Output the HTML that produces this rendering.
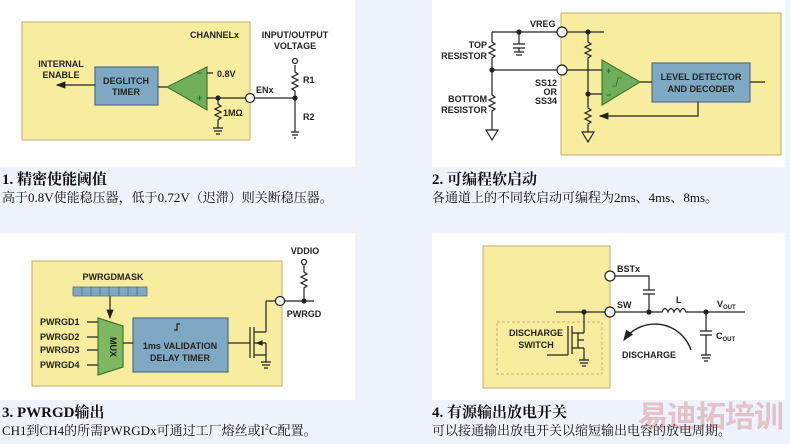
<!DOCTYPE html>
<html><head><meta charset="utf-8"><style>
body{margin:0;background:#eef3fb;width:790px;height:444px;overflow:hidden;position:relative;font-family:"Liberation Serif","Noto Serif CJK SC",serif}
svg{position:absolute;left:0;top:0}
.t{font-family:"Liberation Sans",sans-serif;font-weight:bold;font-size:9px;fill:#222}
.cap{position:absolute;font-size:13px;color:#111;line-height:18px;white-space:nowrap}
.cap b{font-size:15px;font-family:"Liberation Serif","Noto Serif CJK SC",serif}
</style></head><body>
<svg width="790" height="444" viewBox="0 0 790 444">
<defs><marker id="ar" markerWidth="8" markerHeight="8" refX="7" refY="4" orient="auto"><path d="M0,1 L8,4 L0,7z" fill="#222"/></marker></defs>
<g stroke="#222" stroke-width="1.2" fill="none">
<rect x="0" y="0" width="355" height="167" fill="#fff" stroke="none"/>
<rect x="432" y="0" width="353" height="167" fill="#fff" stroke="none"/>
<rect x="0" y="233" width="355" height="167" fill="#fff" stroke="none"/>
<rect x="432" y="233" width="353" height="167" fill="#fff" stroke="none"/>
<!-- P1 -->
<rect x="22" y="22" width="228" height="118" fill="#f8ec9f" stroke="#c9b97c"/>
<rect x="95" y="67" width="63" height="38" fill="#7fa9c2" stroke="#4f7088"/>
<path d="M167,87 L207,67 L207,110 Z" fill="#6fae5a" stroke="#3f7a35"/>
<path d="M158,87 H167 M95,85 H57" marker-end="url(#ar)"/>
<path d="M207,73 H213 M207,98 H246 M254,98 H295 M295,65 V72 l3,2 -6,3 6,3 -6,3 6,3 -6,3 3,2 V122 M218,98 V104 l3,2 -6,3 6,3 -6,3 6,3 -3,2 V128"/>
<path d="M291,132 H299 M292,135 H298 M294,138 H296 M295,122 V132 M213,128 H223 M214,131 H222 M216,134 H220"/>
<circle cx="250" cy="98" r="4.5" fill="#fff"/><circle cx="295" cy="61" r="2.5" fill="#fff"/>
<circle cx="218" cy="98" r="2" fill="#222"/><circle cx="295" cy="98" r="2" fill="#222"/>
<!-- P2 -->
<rect x="561" y="13" width="220" height="142" fill="#f8ec9f" stroke="#c9b97c"/>
<rect x="652" y="63" width="98" height="39" fill="#7fa9c2" stroke="#4f7088"/>
<path d="M602,60 L640,82 L602,105 Z" fill="#6fae5a" stroke="#3f7a35"/>
<path d="M612,86 h4 l2,-8 h4" stroke="#2d6a2a" stroke-width="0.8"/>
<path d="M492,32 H557 M567,32 H604 M492,70 H557 M567,70 H602 M588,32 V42 l3,2 -6,3 6,3 -6,3 6,3 -3,2 V94 M588,94 H602 M588,94 V108 l3,2 -6,3 6,3 -6,3 6,3 -3,2 V132 M640,82 H652 M750,82 H765"/>
<path d="M492,32 V42 l3,2 -6,3 6,3 -6,3 6,3 -3,2 V95 l3,2 -6,3 6,3 -6,3 6,3 -3,2 V130"/>
<path d="M486,130 H498 L492,140 Z M582,132 H594 L588,142 Z"/>
<path d="M519,32 V44 M513,44 H525 M513,48 H525 M519,48 V52 M514,52 H524 M516,55 H522"/>
<path d="M698,102 V116 H600" marker-end="url(#ar)"/>
<circle cx="562" cy="32" r="5" fill="#fff"/><circle cx="562" cy="70" r="5" fill="#fff"/>
<circle cx="519" cy="32" r="2" fill="#222"/><circle cx="588" cy="32" r="2" fill="#222"/><circle cx="492" cy="70" r="2" fill="#222"/><circle cx="588" cy="94" r="2" fill="#222"/>
<!-- P3 -->
<rect x="32" y="261" width="250" height="125" fill="#f8ec9f" stroke="#c9b97c"/>
<rect x="73" y="287" width="74" height="9" fill="#7fa9c2" stroke="#4f7088" stroke-width="0.8"/>
<path d="M82,287 V296 M91,287 V296 M100,287 V296 M109,287 V296 M119,287 V296 M128,287 V296 M137,287 V296" stroke="#4f7088" stroke-width="0.8"/>
<path d="M98,318 L123,326 V367 L98,375 Z" fill="#7fb860" stroke="#3f7a35"/>
<rect x="133" y="318" width="95" height="54" fill="#7fa9c2" stroke="#4f7088"/>
<path d="M110,296 V318" marker-end="url(#ar)"/>
<path d="M87,322 H98 M87,337 H98 M87,350 H98 M87,365 H98 M123,343 H133 M228,343 H250 M250,327 V358 M254,327 V358 M254,332 H266 M254,343 H266 M254,355 H266 M266,301 V332 M266,343 V355 M266,355 V362 M266,301 H276 M284,301 H314 M304,265 V272 l3,2 -6,3 6,3 -6,3 6,3 -3,2 V301 M261,362 H271 M262,365 H270 M264,368 H268"/>
<path d="M174,330 h3 v-6 h3" stroke-width="1.2"/>
<circle cx="280" cy="301" r="4.5" fill="#fff"/><circle cx="304" cy="262" r="2.5" fill="#fff"/><circle cx="304" cy="301" r="2" fill="#222"/>
<path d="M257,343 l5,-2 v4z" fill="#222"/>
<!-- P4 -->
<rect x="483" y="246" width="127" height="142" fill="#f8ec9f" stroke="#c9b97c"/>
<rect x="497" y="322" width="105" height="52" stroke="#b0a070" stroke-dasharray="3,2" stroke-width="0.8"/>
<path d="M614,276 H649 V290 M643,290 H655 M643,294 H655 M649,294 V312 M556,312 H605 M615,312 H662 q3,-7 6,0 q3,-7 6,0 q3,-7 6,0 q3,-7 6,0 H745 M706,312 V331 M700,331 H712 M700,335 H712 M706,335 V355 M701,355 H711 M702,358 H710 M704,361 H708"/>
<path d="M584,312 V333 M572,333 H584 M578,333 V348 M572,348 H584 M584,348 V360 M572,326 V354 M568,326 V355 M547,355 H568 M579,360 H589 M580,363 H588 M582,366 H586 M584,340 H578"/>
<path d="M691,350 A38,38 0 0 0 624,340" marker-end="url(#ar)" stroke-width="1.4"/>
<circle cx="610" cy="276" r="5" fill="#fff"/><circle cx="610" cy="312" r="5" fill="#fff"/>
<circle cx="584" cy="312" r="2" fill="#222"/><circle cx="649" cy="312" r="2" fill="#222"/><circle cx="706" cy="312" r="2" fill="#222"/>
</g>
<g class="t">
<text x="190" y="38">CHANNELx</text>
<text x="295" y="38" text-anchor="middle">INPUT/OUTPUT</text><text x="295" y="49" text-anchor="middle">VOLTAGE</text>
<text x="61" y="67" text-anchor="middle">INTERNAL</text><text x="61" y="78" text-anchor="middle">ENABLE</text>
<text x="126" y="84" text-anchor="middle">DEGLITCH</text><text x="126" y="95" text-anchor="middle">TIMER</text>
<text x="217" y="77">0.8V</text><text x="256" y="93">ENx</text>
<text x="303" y="83">R1</text><text x="303" y="120">R2</text><text x="223" y="116">1MΩ</text>
<text x="197" y="76" style="fill:#2d6a2a">−</text><text x="197" y="101" style="fill:#2d6a2a">+</text>
<text x="606" y="74" style="fill:#2d6a2a">+</text><text x="606" y="98" style="fill:#2d6a2a">−</text>
<text x="530" y="27">VREG</text>
<text x="487" y="48" text-anchor="end">TOP</text><text x="487" y="59" text-anchor="end">RESISTOR</text>
<text x="487" y="102" text-anchor="end">BOTTOM</text><text x="487" y="113" text-anchor="end">RESISTOR</text>
<text x="557" y="86" text-anchor="end">SS12</text><text x="557" y="95" text-anchor="end">OR</text><text x="557" y="104" text-anchor="end">SS34</text>
<text x="701" y="80" text-anchor="middle">LEVEL DETECTOR</text><text x="701" y="92" text-anchor="middle">AND DECODER</text>
<text x="305" y="254" text-anchor="middle">VDDIO</text><text x="304" y="317" text-anchor="middle">PWRGD</text>
<text x="113" y="280" text-anchor="middle">PWRGDMASK</text>
<text x="40" y="325">PWRGD1</text><text x="40" y="340">PWRGD2</text><text x="40" y="353">PWRGD3</text><text x="40" y="368">PWRGD4</text>
<text x="113" y="347" text-anchor="middle" transform="rotate(90 113 347)" dy="3">MUX</text>
<text x="180" y="349" text-anchor="middle">1ms VALIDATION</text><text x="180" y="361" text-anchor="middle">DELAY TIMER</text>
<text x="617" y="272">BSTx</text><text x="617" y="308">SW</text><text x="676" y="303">L</text>
<text x="717" y="307">V<tspan font-size="6" dy="2">OUT</tspan></text>
<text x="716" y="339">C<tspan font-size="6" dy="2">OUT</tspan></text>
<text x="536" y="336" text-anchor="middle">DISCHARGE</text><text x="536" y="348" text-anchor="middle">SWITCH</text>
<text x="622" y="358">DISCHARGE</text>
</g>
</svg>
<div class="cap" style="left:2px;top:171px"><b>1. 精密使能阈值</b><br>高于0.8V使能稳压器，低于0.72V（迟滞）则关断稳压器。</div>
<div class="cap" style="left:432px;top:171px"><b>2. 可编程软启动</b><br>各通道上的不同软启动可编程为2ms、4ms、8ms。</div>
<div class="cap" style="left:2px;top:404px"><b>3. PWRGD输出</b><br>CH1到CH4的所需PWRGDx可通过工厂熔丝或I<sup style="font-size:8px;line-height:0">2</sup>C配置。</div>
<div class="cap" style="left:432px;top:404px"><b>4. 有源输出放电开关</b><br>可以接通输出放电开关以缩短输出电容的放电周期。</div>
<div style="position:absolute;left:638px;top:396px;font-size:30px;font-weight:bold;color:rgba(200,80,80,0.3);font-family:'Noto Sans CJK SC',sans-serif;letter-spacing:-1px;line-height:36px">易迪拓培训</div>
</body></html>
